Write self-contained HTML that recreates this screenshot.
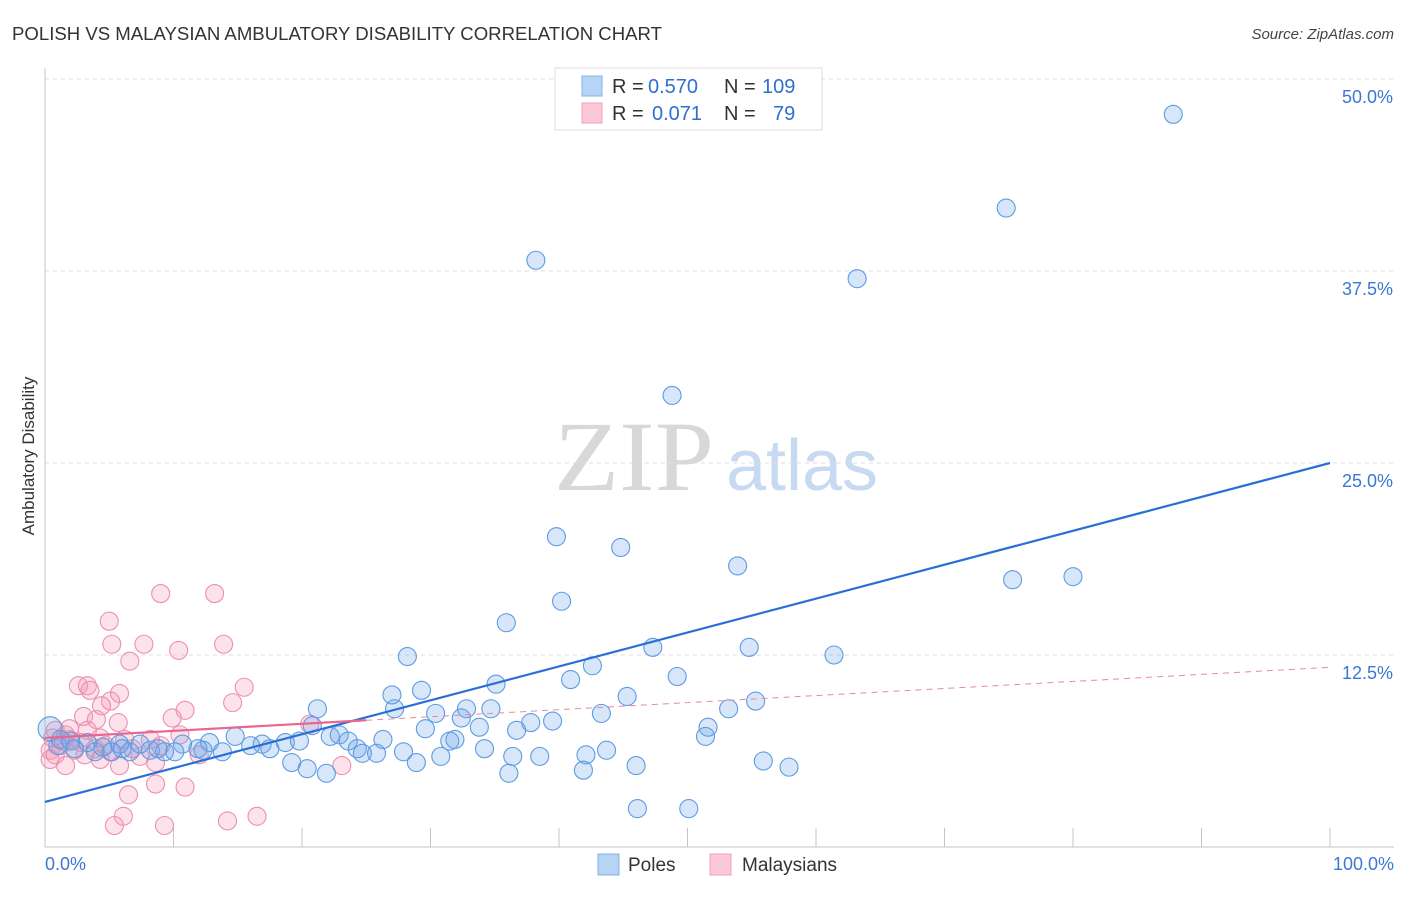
<!DOCTYPE html>
<html><head><meta charset="utf-8"><style>
body{margin:0;background:#fff;font-family:"Liberation Sans",sans-serif}
</style></head><body>
<svg id="chart" width="1406" height="892" xmlns="http://www.w3.org/2000/svg" font-family="Liberation Sans, sans-serif">
<text x="12" y="40" font-size="18" fill="#333" textLength="650" lengthAdjust="spacingAndGlyphs">POLISH VS MALAYSIAN AMBULATORY DISABILITY CORRELATION CHART</text>
<text x="1394" y="39" font-size="15" fill="#444" text-anchor="end" font-style="italic">Source: ZipAtlas.com</text>
<g>
<text x="634" y="490" font-size="100" fill="#d8d8d8" font-family="Liberation Serif, serif" text-anchor="middle" textLength="160" lengthAdjust="spacingAndGlyphs">ZIP</text>
<text x="802" y="490" font-size="72" fill="#c8daf2" text-anchor="middle">atlas</text>
</g>
<g id="grid"></g>
<g id="axes"></g>
<g id="pts"></g>
<g id="lines"></g>
<text transform="translate(34,456) rotate(-90)" font-size="17" fill="#333" text-anchor="middle">Ambulatory Disability</text>
<g font-size="20">
<rect x="555" y="68" width="267" height="62" fill="#fff" stroke="#ddd"/>
<rect x="582" y="76" width="20" height="20" fill="#b8d4f5" stroke="#7fb0ea"/>
<rect x="582" y="103" width="20" height="20" fill="#fcc8d8" stroke="#f0a0bb"/>
<text x="612" y="93" fill="#333">R =</text><text x="648" y="93" fill="#2e6fd0">0.570</text>
<text x="724" y="93" fill="#333">N =</text><text x="762" y="93" fill="#2e6fd0">109</text>
<text x="612" y="120" fill="#333">R =</text><text x="652" y="120" fill="#2e6fd0">0.071</text>
<text x="724" y="120" fill="#333">N =</text><text x="773" y="120" fill="#2e6fd0">79</text>
</g>
<g>
<rect x="598" y="854" width="21" height="21" fill="#b8d4f5" stroke="#7fb0ea"/>
<text x="628" y="871" font-size="19" fill="#333">Poles</text>
<rect x="710" y="854" width="21" height="21" fill="#fcc8d8" stroke="#f0a0bb"/>
<text x="742" y="871" font-size="19" fill="#333">Malaysians</text>
</g>
</svg>
<script>
const yTicks=[12.5,25,37.5,50];
const yTickLabels=["12.5%","25.0%","37.5%","50.0%"];
const xTickLabels=["0.0%","100.0%"];
const polesX=[87.8,74.8,63.2,38.2,48.8,39.8,44.8,53.9,75.3,80.0,40.2,35.9,47.3,54.8,61.4,28.2,42.6,49.2,40.9,35.1,27.0,29.3,45.3,55.3,21.2,27.2,53.2,32.8,34.7,43.3,30.4,32.4,37.8,39.5,51.6,33.8,36.7,20.8,29.6,51.4,22.2,22.9,23.6,26.3,31.5,31.9,34.2,24.3,24.7,25.8,27.9,30.8,36.4,38.5,42.1,43.7,19.2,20.4,21.9,28.9,36.1,41.9,46.0,55.9,57.9,46.1,50.1,14.8,16.9,18.7,19.8,12.8,13.8,11.9,10.7,9.3,8.2,6.6,5.2,3.9,2.3,1.0,0.4,1.2,3.3,5.8,7.4,17.5,16.0,10.1,12.3,2.0,4.5,6.0,8.8];
const polesY=[47.7,41.6,37.0,38.2,29.4,20.2,19.5,18.3,17.4,17.6,16.0,14.6,13.0,13.0,12.5,12.4,11.8,11.1,10.9,10.6,9.9,10.2,9.8,9.5,9.0,9.0,9.0,9.0,9.0,8.7,8.7,8.4,8.1,8.2,7.8,7.8,7.6,7.9,7.7,7.2,7.2,7.3,6.9,7.0,6.9,7.0,6.4,6.4,6.1,6.1,6.2,5.9,5.9,5.9,6.0,6.3,5.5,5.1,4.8,5.5,4.8,5.0,5.3,5.6,5.2,2.5,2.5,7.2,6.7,6.8,6.9,6.8,6.2,6.4,6.7,6.2,6.3,6.2,6.2,6.2,6.4,6.6,7.7,7.0,6.8,6.7,6.7,6.4,6.6,6.2,6.3,6.9,6.5,6.4,6.4];
const malX=[9.0,13.2,5.0,5.2,7.7,13.9,10.4,6.6,2.6,3.3,3.5,5.8,15.5,5.1,4.4,10.9,14.6,3.0,4.0,5.7,9.9,20.6,0.6,4.3,6.2,9.0,10.5,8.6,5.8,4.3,1.6,23.1,6.5,8.6,10.9,6.1,5.4,9.3,14.2,16.5,0.4,0.8,1.2,1.9,2.3,3.1,3.9,4.7,0.4,1.6,7.4,8.2,5.1,3.3,1.9,0.8,2.8,1.4,6.8,12.0];
const malY=[16.5,16.5,14.7,13.2,13.2,13.2,12.8,12.1,10.5,10.5,10.2,10.0,10.4,9.5,9.2,8.9,9.4,8.5,8.3,8.1,8.4,8.0,7.1,7.1,7.0,6.6,7.3,5.5,5.3,5.7,5.3,5.3,3.4,4.1,3.9,2.0,1.4,1.4,1.7,2.0,6.3,6.0,6.6,7.0,6.3,6.0,6.4,6.6,5.7,7.3,5.9,7.0,6.2,7.6,7.7,7.6,6.8,6.9,6.4,6.0];
const polesTrend=[2.93,25.0];
const malTrend=[7.1,11.7];
const NS="http://www.w3.org/2000/svg";
const X0=45,X1=1330,Y0=847,Y50=79;
const sx=v=>X0+(X1-X0)*v/100;
const sy=v=>Y0-(Y0-Y50)*v/50;
function mk(t,a,p){const e=document.createElementNS(NS,t);for(const k in a)e.setAttribute(k,a[k]);document.getElementById(p).appendChild(e);return e;}
yTicks.forEach((t,i)=>{
 const l=mk('line',{x1:X0,x2:1394,y1:sy(t),y2:sy(t),stroke:'#ddd','stroke-dasharray':'4,4'},'grid');
 
 
 const tx=mk('text',{x:1393,y:sy(t)+24,'font-size':18,fill:'#3a78d4','text-anchor':'end'},'grid');
 tx.textContent=yTickLabels[i];
 
 
});
const ax=mk('line',{x1:X0,x2:X0,y1:68,y2:Y0,stroke:'#c4c4c4'},'axes');


const bx=mk('line',{x1:X0,x2:1394,y1:Y0,y2:Y0,stroke:'#c4c4c4'},'axes');


for(let i=1;i<=10;i++){const t=mk('line',{x1:sx(i*10),x2:sx(i*10),y1:828,y2:Y0,stroke:'#c4c4c4'},'axes');
 
 }
const xl0=mk('text',{x:45,y:870,'font-size':18,fill:'#3a78d4'},'axes');xl0.textContent=xTickLabels[0];


const xl1=mk('text',{x:1394,y:870,'font-size':18,fill:'#3a78d4','text-anchor':'end'},'axes');xl1.textContent=xTickLabels[1];


malX.forEach((v,i)=>{const c=mk('circle',{cx:sx(v),cy:sy(malY[i]),r:9,fill:'rgba(244,150,180,0.28)',stroke:'#ee8fae','stroke-width':1.1},'pts');
 
 });
polesX.forEach((v,i)=>{const c=mk('circle',{cx:sx(v),cy:sy(polesY[i]),r:i==82?12:9,fill:'rgba(110,165,235,0.28)',stroke:'#5d9be2','stroke-width':1.1},'pts');
 
 });
const pl=mk('line',{x1:sx(0),y1:sy(polesTrend[0]),x2:sx(100),y2:sy(polesTrend[1]),stroke:'#2a6fd6','stroke-width':2.2},'lines');


const mY=x=>malTrend[0]+(malTrend[1]-malTrend[0])*x/100;
const ml=mk('line',{x1:sx(0),y1:sy(mY(0)),x2:sx(25),y2:sy(mY(25)),stroke:'#e8668f','stroke-width':2.2},'lines');


const md=mk('line',{x1:sx(25),y1:sy(mY(25)),x2:sx(100),y2:sy(mY(100)),stroke:'#e8889f','stroke-width':1,'stroke-dasharray':'6,5'},'lines');


</script>
</body></html>
